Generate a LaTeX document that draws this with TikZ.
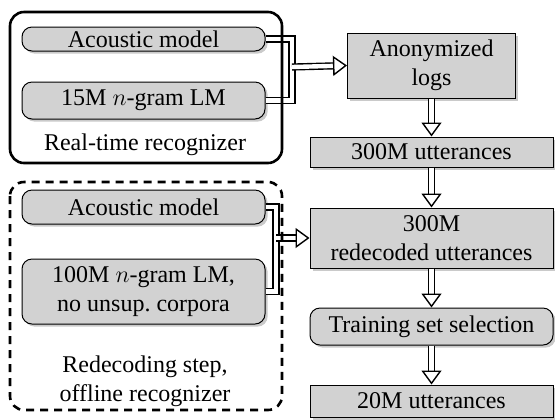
\documentclass[tikz,border=0pt]{standalone}
\usepackage{fontspec}
\setmainfont{Liberation Serif}[Ligatures=TeX]
\usetikzlibrary{arrows.meta,shadows}
\begin{document}
\rmfamily
\begin{tikzpicture}[x=0.5pt,y=-0.5pt,
    every node/.style={font=\rmfamily\fontsize{12}{14.5}\selectfont},
    blk/.style={draw, fill=gray!35, line width=0.5pt, inner sep=0pt, align=center,
        drop shadow={shadow xshift=1.3pt, shadow yshift=-1.3pt, fill=gray!70, opacity=0.6}},
    rblk/.style={blk, rounded corners=5pt},
    dbl/.style={double, double distance=2.2pt, line width=0.7pt},
    dblarrow/.style={dbl, -{Triangle[open, length=7pt, width=10pt, line width=0.7pt]}}]
    \useasboundingbox (0,0) rectangle (555,419);

    \node[rblk, minimum width=121.5pt, minimum height=12pt] (am1) at (143.5,39) {Acoustic model};
    \node[rblk, minimum width=121.5pt, minimum height=18.5pt] (lm1) at (143.5,100.5) {15M $n$-gram LM};
    \node (rt) at (145,145) {Real-time recognizer};

    \node[rblk, minimum width=121.5pt, minimum height=17pt] (am2) at (143.5,207) {Acoustic model};
    \node[rblk, minimum width=121.5pt, minimum height=32.5pt] (lm2) at (143.5,291.5) {100M $n$-gram LM,\\no unsup.\ corpora};
    \node[align=center] (off) at (145,381) {Redecoding step,\\offline recognizer};

    \node[blk, minimum width=84pt, minimum height=32.5pt] (logs) at (431.5,65.5) {Anonymized\\logs};
    \node[blk, minimum width=121.5pt, minimum height=15pt] (u300) at (431.5,152) {300M utterances};
    \node[blk, minimum width=121.5pt, minimum height=30pt] (red) at (431.5,238) {300M\\redecoded utterances};
    \node[rblk, minimum width=121.5pt, minimum height=18.5pt] (tss) at (431.5,326.5) {Training set selection};
    \node[blk, minimum width=121.5pt, minimum height=16pt] (u20) at (431.5,401) {20M utterances};

    \coordinate (m1) at (292,67);
    \coordinate (m2) at (276,238);
    \draw[dbl] (am1.east) -| (m1);
    \draw[dbl] (lm1.east) -| (m1);
    \draw[dblarrow] (m1) -- (logs.west);
    \draw[dbl] (am2.east) -| (m2);
    \draw[dbl] (lm2.east) -| (m2);
    \draw[dblarrow] (m2) -- (red.west);

    \draw[dblarrow] (logs) -- (u300);
    \draw[dblarrow] (u300) -- (red);
    \draw[dblarrow] (red) -- (tss);
    \draw[dblarrow] (tss) -- (u20);

    % recognizer frames, on top of the connectors
    \draw[line width=1.3pt, rounded corners=7pt] (10,12) rectangle (282,163);
    \draw[line width=1.3pt, dashed, dash pattern=on 4pt off 3pt, rounded corners=7pt] (10,182) rectangle (282,410);
\end{tikzpicture}
\end{document}
